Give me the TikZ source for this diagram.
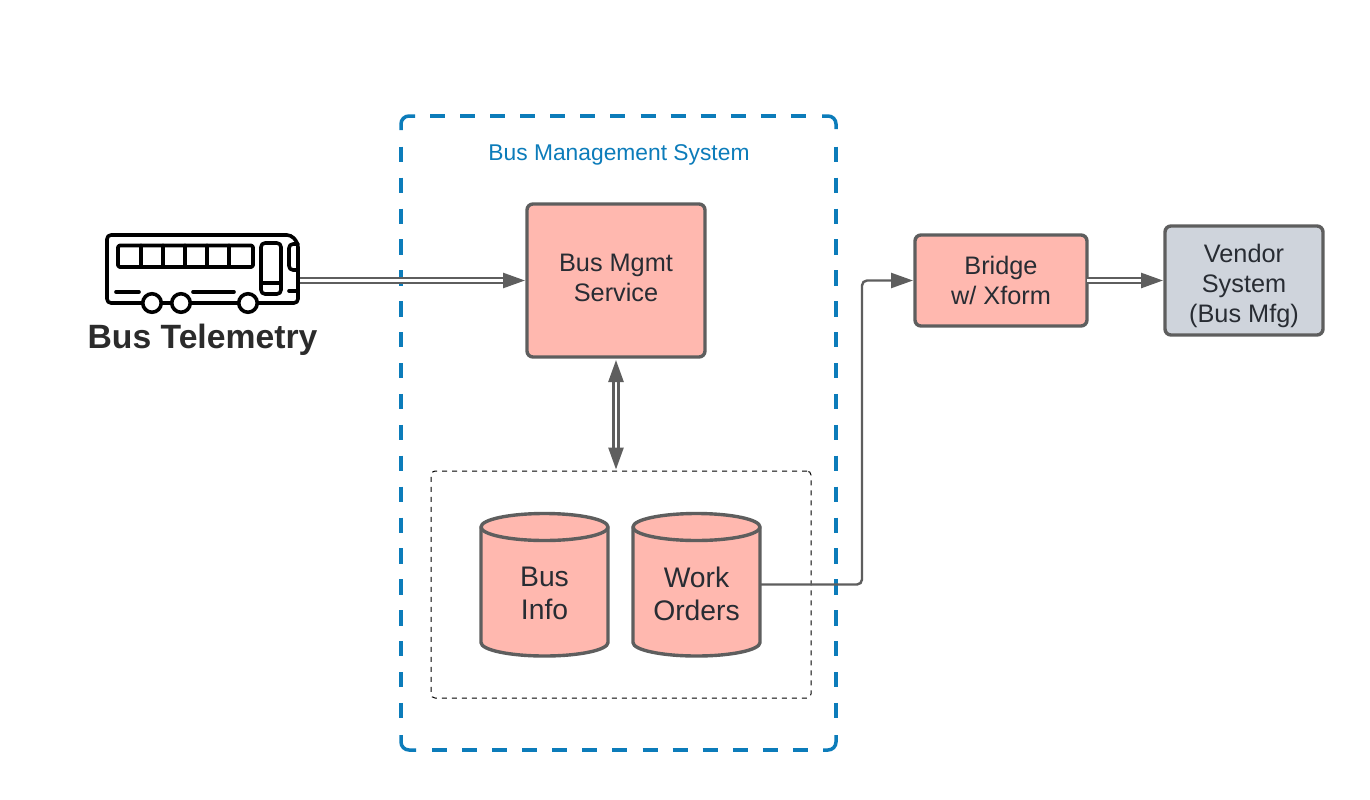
\documentclass[tikz,border=0pt]{standalone}
\usepackage{fontspec}
\setmainfont{Liberation Sans}
\usetikzlibrary{arrows.meta}
\definecolor{salmon}{HTML}{FFB8AF}
\definecolor{edgegray}{HTML}{5E5E5E}
\definecolor{vendorgray}{HTML}{CFD4DC}
\definecolor{bmsblue}{HTML}{0C7CBA}
\definecolor{inktext}{HTML}{282C33}
\definecolor{buslabelink}{HTML}{2B2B2B}
\tikzset{
  every node/.style={outer sep=0pt},
  box/.style={draw=edgegray,line width=3.4pt,rounded corners=6pt,fill=salmon,inner sep=0pt,anchor=north west},
  lbl/.style={text=inktext,align=center,font=\fontsize{25.3}{30}\selectfont,inner sep=0pt},
  dblbl/.style={text=inktext,align=center,font=\fontsize{28.3}{33}\selectfont,inner sep=0pt},
  dbody/.style={draw=edgegray,line width=3.4pt,fill=salmon,line join=round},
  dbnode/.style={inner sep=0pt,minimum width=127pt,minimum height=143pt},
  dbl/.style={draw=edgegray,double=white,line width=2.6pt,double distance=2.6pt},
  conn/.style={draw=edgegray,line width=2.4pt},
  bmsline/.style={draw=bmsblue,line width=3.5pt},
  busline/.style={draw=black,line width=3.6pt,line cap=round,line join=round},
  wheel/.style={circle,draw=black,line width=3.6pt,fill=white,minimum size=18.5pt,inner sep=0pt}
}
\begin{document}
\begin{tikzpicture}[x=1pt,y=-1pt,>={Triangle[length=22pt,width=15pt]}]
\useasboundingbox (0,0) rectangle (1370,800);
\fill[white] (0,0) rectangle (1370,800);
% outer dashed container
\node[inner sep=0pt,anchor=north west,minimum width=435pt,minimum height=634pt] (bms) at (401,116) {};
\draw[bmsline,rounded corners=8pt] (401,130) -- (401,116) -- (415,116);
\draw[bmsline,rounded corners=8pt] (822,116) -- (836,116) -- (836,129);
\draw[bmsline,rounded corners=8pt] (836,735) -- (836,750) -- (823,750);
\draw[bmsline,rounded corners=8pt] (416,750) -- (401,750) -- (401,735);
\draw[bmsline,dash pattern=on 15pt off 15.08pt] (430,116) -- (806,116);
\draw[bmsline,dash pattern=on 15pt off 15.08pt] (432,750) -- (808,750);
\draw[bmsline,dash pattern=on 15.3pt off 15.6pt] (401,146.7) -- (401,719);
\draw[bmsline,dash pattern=on 15.3pt off 15.6pt] (836,146.7) -- (836,719);
% inner dashed container
\node[draw=black,line width=1pt,dash pattern=on 5pt off 5pt,rounded corners=4pt,anchor=north west,
  minimum width=380pt,minimum height=227pt,inner sep=0pt] (dbbox) at (431,471) {};
\node[text=bmsblue,font=\fontsize{22.8}{27}\selectfont,inner sep=0pt] (bmslabel) at (619,154.5) {Bus Management System};
% service boxes
\node[box,minimum width=178pt,minimum height=153pt] (svc) at (527,204) {};
\node[lbl] (svclabel) at (616,278) {Bus Mgmt\\Service};
\node[box,minimum width=172pt,minimum height=91pt] (bridge) at (915,235) {};
\node[lbl] (bridgelabel) at (1001,280.5) {Bridge\\w/ Xform};
\node[box,fill=vendorgray,minimum width=158pt,minimum height=109pt] (vendor) at (1165,226) {};
\node[lbl] (vendorlabel) at (1244,285.5) {Vendor\\System\\(Bus Mfg)};
% databases
\foreach \nm/\cx in {businfo/544.5,workorders/696.5}{
  \draw[dbody] (\cx-63.5,527) arc[start angle=180,end angle=0,x radius=63.5pt,y radius=13.5pt]
     -- (\cx+63.5,642.5) arc[start angle=0,end angle=180,x radius=63.5pt,y radius=-13.5pt] -- cycle;
  \draw[dbody,fill=none] (\cx-63.5,527) arc[start angle=180,end angle=0,x radius=63.5pt,y radius=-13.5pt];
  \node[dbnode] (\nm) at (\cx,584.5) {};
}
\node[dblbl] (businfolabel) at (544.5,593.5) {Bus\\Info};
\node[dblbl] (workorderslabel) at (696.5,593.5) {Work\\Orders};
% bus icon
\node[inner sep=0pt,minimum width=193pt,minimum height=68pt,anchor=north west] (bus) at (107,235) {};
\draw[busline,rounded corners=4pt] (107,270) -- (107,303) -- (298,303) -- (298,243) -- (291,235) -- (107,235) -- cycle;
\draw[busline,rounded corners=1.5pt] (118,245.5) rectangle (253,267);
\foreach \xx in {141,163,185,207,229} \draw[busline] (\xx,245.5) -- (\xx,267);
\draw[busline,rounded corners=4pt] (261,243) rectangle (281,294);
\draw[busline] (261,283) -- (281,283);
\draw[busline,rounded corners=4pt] (298,244) -- (289,244) -- (289,270) -- (298,270);
\draw[busline] (116,292) -- (139,292);
\draw[busline] (193,292) -- (234,292);
\draw[busline] (289,291) -- (298,291);
\node[wheel] (w1) at (152,303) {};
\node[wheel] (w2) at (181,303) {};
\node[wheel] (w3) at (248,303) {};
\node[text=buslabelink,font=\bfseries\fontsize{33.7}{40}\selectfont,inner sep=0pt] (buslabel) at (202.5,340) {Bus Telemetry};
% connectors
\draw[dbl,->,shorten >=2pt] (bus.east |- svc.west) -- (svc.west);
\draw[dbl,<->,shorten <=3pt,shorten >=1.5pt] (svc.south) -- (svc.south |- dbbox.north);
\draw[dbl,->,shorten >=2pt] (bridge.east) -- (vendor.west |- bridge.east);
\coordinate (turn) at (862,584.5);
\draw[conn,rounded corners=5pt,->,shorten >=2pt] (workorders.east) -- (turn) -- (turn |- bridge.west) -- (bridge.west);
\end{tikzpicture}
\end{document}
